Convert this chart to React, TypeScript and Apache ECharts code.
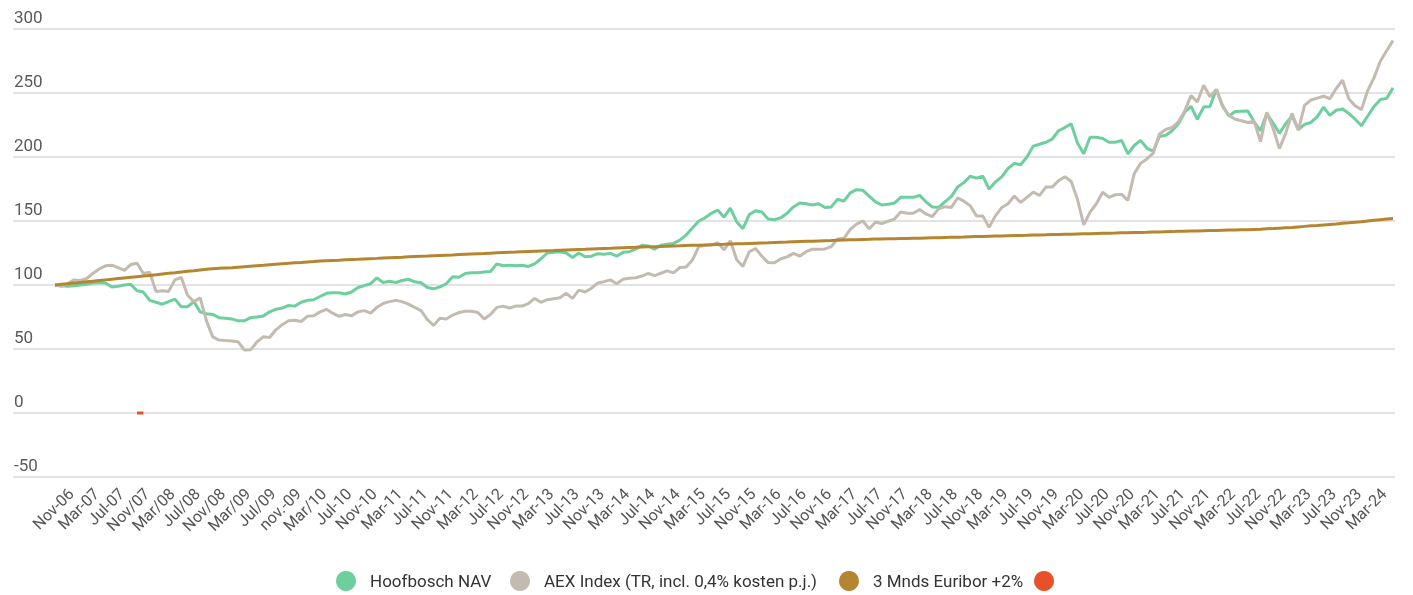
import React, { useEffect, useRef } from "react";
import * as echarts from "echarts";

const monthNames = ["Jan", "Feb", "Mar", "Apr", "May", "Jun", "Jul", "Aug", "Sep", "Oct", "Nov", "Dec"];

// Tick labels shown every 4th month (as written in the source)
const tickLabels = [
  "Nov-06", "Mar-07", "Jul-07", "Nov/07", "Mar/08", "Jul/08", "Nov/08", "Mar/09", "Jul/09", "nov.-09",
  "Mar/10", "Jul-10", "Nov-10", "Mar-11", "Jul-11", "Nov-11", "Mar-12", "Jul-12", "Nov-12", "Mar-13",
  "Jul-13", "Nov-13", "Mar-14", "Jul-14", "Nov-14", "Mar-15", "Jul-15", "Nov-15", "Mar-16", "Jul-16",
  "Nov-16", "Mar-17", "Jul-17", "Nov-17", "Mar-18", "Jul-18", "Nov-18", "Mar-19", "Jul-19", "Nov-19",
  "Mar-20", "Jul-20", "Nov-20", "Mar-21", "Jul-21", "Nov-21", "Mar-22", "Jul-22", "Nov-22", "Mar-23",
  "Jul-23", "Nov-23", "Mar-24",
];

const seriesNames = ["Hoofbosch NAV", "AEX Index (TR, incl. 0,4% kosten p.j.)", "3 Mnds Euribor +2%", " "];

const navValues = [
  100, 99.5, 99, 99.5, 100, 100.5, 101.5, 102, 101.5, 98.5, 99, 100, 100.5, 95.5, 94.5, 88, 86.5, 85, 87, 89,
  83, 83, 87, 79, 77.5, 77, 74.5, 74, 73.5, 72, 72, 74.5, 75, 75.8, 79, 81, 82, 84, 83.5, 86.5,
  88, 88.5, 91, 93.5, 94, 94, 93, 94.5, 98, 99.5, 101, 105.5, 102, 103, 102, 103.5, 104.5, 102.5, 101.8, 98,
  97, 98.5, 101, 106.5, 106, 109, 109.5, 109.6, 110.2, 110.6, 116.5, 115, 115.5, 115, 115.5, 114.5, 116.5, 120.5, 125, 125.5,
  126, 125, 121.5, 125, 122, 122.5, 124.5, 124, 124.7, 122.5, 125.5, 126, 128, 131, 130.5, 128, 131, 131.8, 132.5, 135,
  139, 144.5, 150, 152.5, 156, 158.5, 153, 160, 149.5, 144, 155, 158, 157, 151.5, 151, 152.5, 156, 161, 164, 163.5,
  162.5, 163.5, 160.5, 161, 167, 165.5, 172, 174.5, 174, 169.5, 165, 162.5, 163, 164, 168.5, 168.5, 168.5, 170, 165, 161,
  160.7, 165, 169, 176.5, 180, 185, 183.5, 185, 175, 180.5, 184.5, 191, 195, 194, 200, 208.5, 210, 211.5, 214, 220.5,
  223, 226, 211, 202.5, 215.5, 215.5, 214.5, 211.5, 211.5, 213, 202.5, 209, 213, 207, 204.5, 216, 217, 220.5, 226, 235,
  239.5, 229.5, 239, 239.5, 253, 240, 232, 235.5, 235.8, 236, 227.5, 220.5, 234, 226.5, 218.5, 226, 232, 221.5, 225.5, 227,
  231.5, 239, 232.5, 236.5, 237.5, 234, 229.5, 224.5, 232, 239.5, 245, 245.8, 254,
];

const aexValues = [
  100, 99, 101, 104, 103.5, 105, 109, 112.5, 115, 115.5, 113.5, 111.5, 116, 117, 109, 110, 95, 95.5, 95, 104,
  106, 92, 87, 90, 72, 59.5, 57, 56.6, 56.3, 55.7, 49.2, 49.5, 55.5, 59.5, 59, 65, 69, 72, 72.5, 71.5,
  75.5, 76, 79, 81, 78, 75.5, 77, 76, 79, 80, 78, 82.5, 85.5, 87, 88, 87, 85, 82.5, 80, 73,
  68.5, 74, 73.5, 76.5, 78.5, 79.5, 79.5, 78.5, 73.5, 77, 82.5, 83.5, 82, 83.5, 83.5, 85.5, 89.5, 86.5, 88.5, 89.3,
  90, 93.5, 89.5, 96, 94.5, 97.5, 101.5, 102.6, 104, 101, 104.5, 105.2, 105.7, 107, 109, 107.3, 109.2, 111, 109.5, 113.6,
  114, 119.5, 130, 131, 131.2, 133, 127.5, 134.5, 120, 114.5, 126, 128.5, 122.5, 117.5, 117.4, 120.5, 122, 124.7, 122.5, 126,
  128, 128, 128.2, 130, 136, 136.5, 143.5, 147.5, 150, 144, 149, 148, 149.8, 151.5, 157, 156, 156, 159, 155.5, 153.5,
  159.5, 161.2, 160.5, 168, 165.5, 162, 154, 154, 145, 154, 160.5, 163.5, 169.5, 164.5, 168.5, 172.5, 170, 176.5, 176.5, 181.5,
  184.5, 181, 167, 147, 157, 163.5, 172.5, 168.5, 170.5, 170.8, 166, 187, 195, 198.5, 203, 218, 221.5, 223, 227.5, 236,
  248, 243, 256, 247, 252.5, 239.5, 232.5, 229.5, 228.3, 227, 228, 212, 235, 222.5, 206.5, 218.5, 234, 221, 240.5, 244.5,
  246, 247.5, 245.5, 253.5, 260, 245.5, 240, 237, 252, 262, 275, 283, 291,
];

const euriborValues = [
  100, 100.5, 101, 101.5, 102, 102.5, 103, 103.5, 104, 104.5, 105, 105.5, 106, 106.5, 107, 107.5, 108, 108.6, 109.1, 109.6,
  110.2, 110.7, 111.2, 111.8, 112.3, 112.7, 113.1, 113.3, 113.5, 113.9, 114.3, 114.7, 115.1, 115.4, 115.8, 116.2, 116.6, 116.9, 117.3, 117.6,
  118.0, 118.3, 118.7, 119.0, 119.2, 119.4, 119.7, 119.9, 120.1, 120.4, 120.6, 120.8, 121.1, 121.3, 121.5, 121.7, 122.0, 122.2, 122.4, 122.6,
  122.9, 123.1, 123.3, 123.5, 123.8, 124.0, 124.2, 124.4, 124.6, 124.9, 125.1, 125.3, 125.5, 125.7, 126.0, 126.2, 126.4, 126.6, 126.8, 126.9,
  127.1, 127.3, 127.5, 127.7, 127.9, 128.2, 128.4, 128.6, 128.7, 128.9, 129.1, 129.3, 129.4, 129.6, 129.8, 129.9, 130.1, 130.3, 130.5, 130.6,
  130.8, 131.0, 131.1, 131.3, 131.5, 131.7, 131.8, 132.0, 132.2, 132.3, 132.5, 132.7, 132.9, 133.0, 133.2, 133.4, 133.5, 133.7, 133.9, 134.1,
  134.2, 134.4, 134.6, 134.7, 134.9, 135.1, 135.3, 135.4, 135.6, 135.7, 135.9, 136.0, 136.05, 136.1, 136.3, 136.4, 136.5, 136.6, 136.8, 136.9,
  137.0, 137.2, 137.3, 137.4, 137.5, 137.7, 137.8, 137.9, 138.1, 138.2, 138.3, 138.5, 138.6, 138.7, 138.8, 139.0, 139.1, 139.2, 139.4, 139.5,
  139.6, 139.7, 139.9, 140.0, 140.1, 140.3, 140.4, 140.5, 140.6, 140.8, 140.9, 141.0, 141.1, 141.2, 141.4, 141.5, 141.6, 141.7, 141.9, 142.0,
  142.1, 142.2, 142.4, 142.5, 142.6, 142.8, 142.9, 143.0, 143.1, 143.2, 143.4, 143.6, 143.9, 144.1, 144.4, 144.7, 145.0, 145.4, 145.8, 146.2,
  146.5, 146.9, 147.3, 147.7, 148.2, 148.6, 149.1, 149.5, 150.0, 150.5, 151.0, 151.5, 152.0,
];

// Unnamed 4th series: a short segment at 0
const markerStartIndex = 13;
const markerValues = [0, 0];

const yTicks = { min: -50, max: 300, interval: 50 };

const colors = ["#6dcf9e", "#c3bbaf", "#b5862f", "#e8502a"];

// left edge of each legend symbol
const legendLefts = [336, 510, 839, 1034];

function buildCategories(count: number): string[] {
  const cats: string[] = [];
  let m = 10;
  let y = 2006;
  for (let i = 0; i < count; i++) {
    const label = i % 4 === 0 && tickLabels[i / 4] !== undefined
      ? tickLabels[i / 4]
      : monthNames[m] + "-" + String(y % 100).padStart(2, "0");
    cats.push(label);
    m++;
    if (m === 12) { m = 0; y++; }
  }
  return cats;
}

export default function App() {
  const ref = useRef<HTMLDivElement>(null);
  useEffect(() => {
    if (!ref.current) return;
    const chart = echarts.init(ref.current, null, { renderer: "svg" });
    const n = navValues.length;
    const categories = buildCategories(n);
    const marker: (number | null)[] = categories.map(() => null);
    markerValues.forEach((v, k) => { marker[markerStartIndex + k] = v; });

    const lineSeries = (name: string, data: (number | null)[], color: string) => ({
      name,
      type: "line",
      xAxisIndex: 1,
      yAxisIndex: 1,
      data,
      showSymbol: false,
      symbol: "circle",
      lineStyle: { color, width: 3 },
      itemStyle: { color },
      connectNulls: false,
    });

    chart.setOption({
      animation: false,
      textStyle: { fontFamily: "Roboto, sans-serif" },
      color: colors,
      grid: [
        { left: 13, right: 18, top: 29, bottom: 118 },
        { left: 55, right: 20, top: 29, bottom: 118 },
        { left: 71, right: 4, top: 29, bottom: 118 },
      ],
      xAxis: [
        { gridIndex: 0, type: "value", show: false, min: 0, max: 1 },
        {
          gridIndex: 1, type: "category", data: categories, boundaryGap: false,
          axisLine: { show: false }, axisTick: { show: false }, axisLabel: { show: false }, splitLine: { show: false },
        },
        {
          gridIndex: 2, type: "category", data: categories, boundaryGap: false,
          axisLine: { show: false }, axisTick: { show: false }, splitLine: { show: false },
          axisLabel: {
            rotate: 45,
            interval: (index: number) => index % 4 === 0 && index <= 208,
            margin: 14,
            fontSize: 16,
            color: "#555555",
            fontFamily: "Roboto, sans-serif",
          },
        },
      ],
      yAxis: [
        {
          gridIndex: 0, type: "value", min: yTicks.min, max: yTicks.max, interval: yTicks.interval,
          axisLine: { show: false }, axisTick: { show: false },
          splitLine: { show: true, lineStyle: { color: "#e3e3e3", width: 2 } },
          axisLabel: {
            inside: true, margin: 1, align: "left", verticalAlign: "bottom",
            padding: [0, 0, 4, 0], fontSize: 17, color: "#5a5a5a", fontFamily: "Roboto, sans-serif",
          },
        },
        { gridIndex: 1, type: "value", min: yTicks.min, max: yTicks.max, show: false, splitLine: { show: false } },
        { gridIndex: 2, type: "value", min: yTicks.min, max: yTicks.max, show: false, splitLine: { show: false } },
      ],
      legend: seriesNames.map((name, k) => ({
        left: legendLefts[k],
        top: 571,
        padding: 0,
        icon: "circle",
        itemWidth: 20,
        itemHeight: 20,
        data: [name],
        textStyle: { fontSize: 17, color: "#333333", padding: [0, 0, 0, 9], fontFamily: "Roboto, sans-serif" },
      })),
      series: [
        lineSeries(seriesNames[0], navValues, colors[0]),
        lineSeries(seriesNames[1], aexValues, colors[1]),
        lineSeries(seriesNames[2], euriborValues, colors[2]),
        lineSeries(seriesNames[3], marker, colors[3]),
      ],
    });
    return () => chart.dispose();
  }, []);
  return <div ref={ref} style={{ position: "fixed", left: 0, top: 0, width: 1413, height: 595 }} />;
}
